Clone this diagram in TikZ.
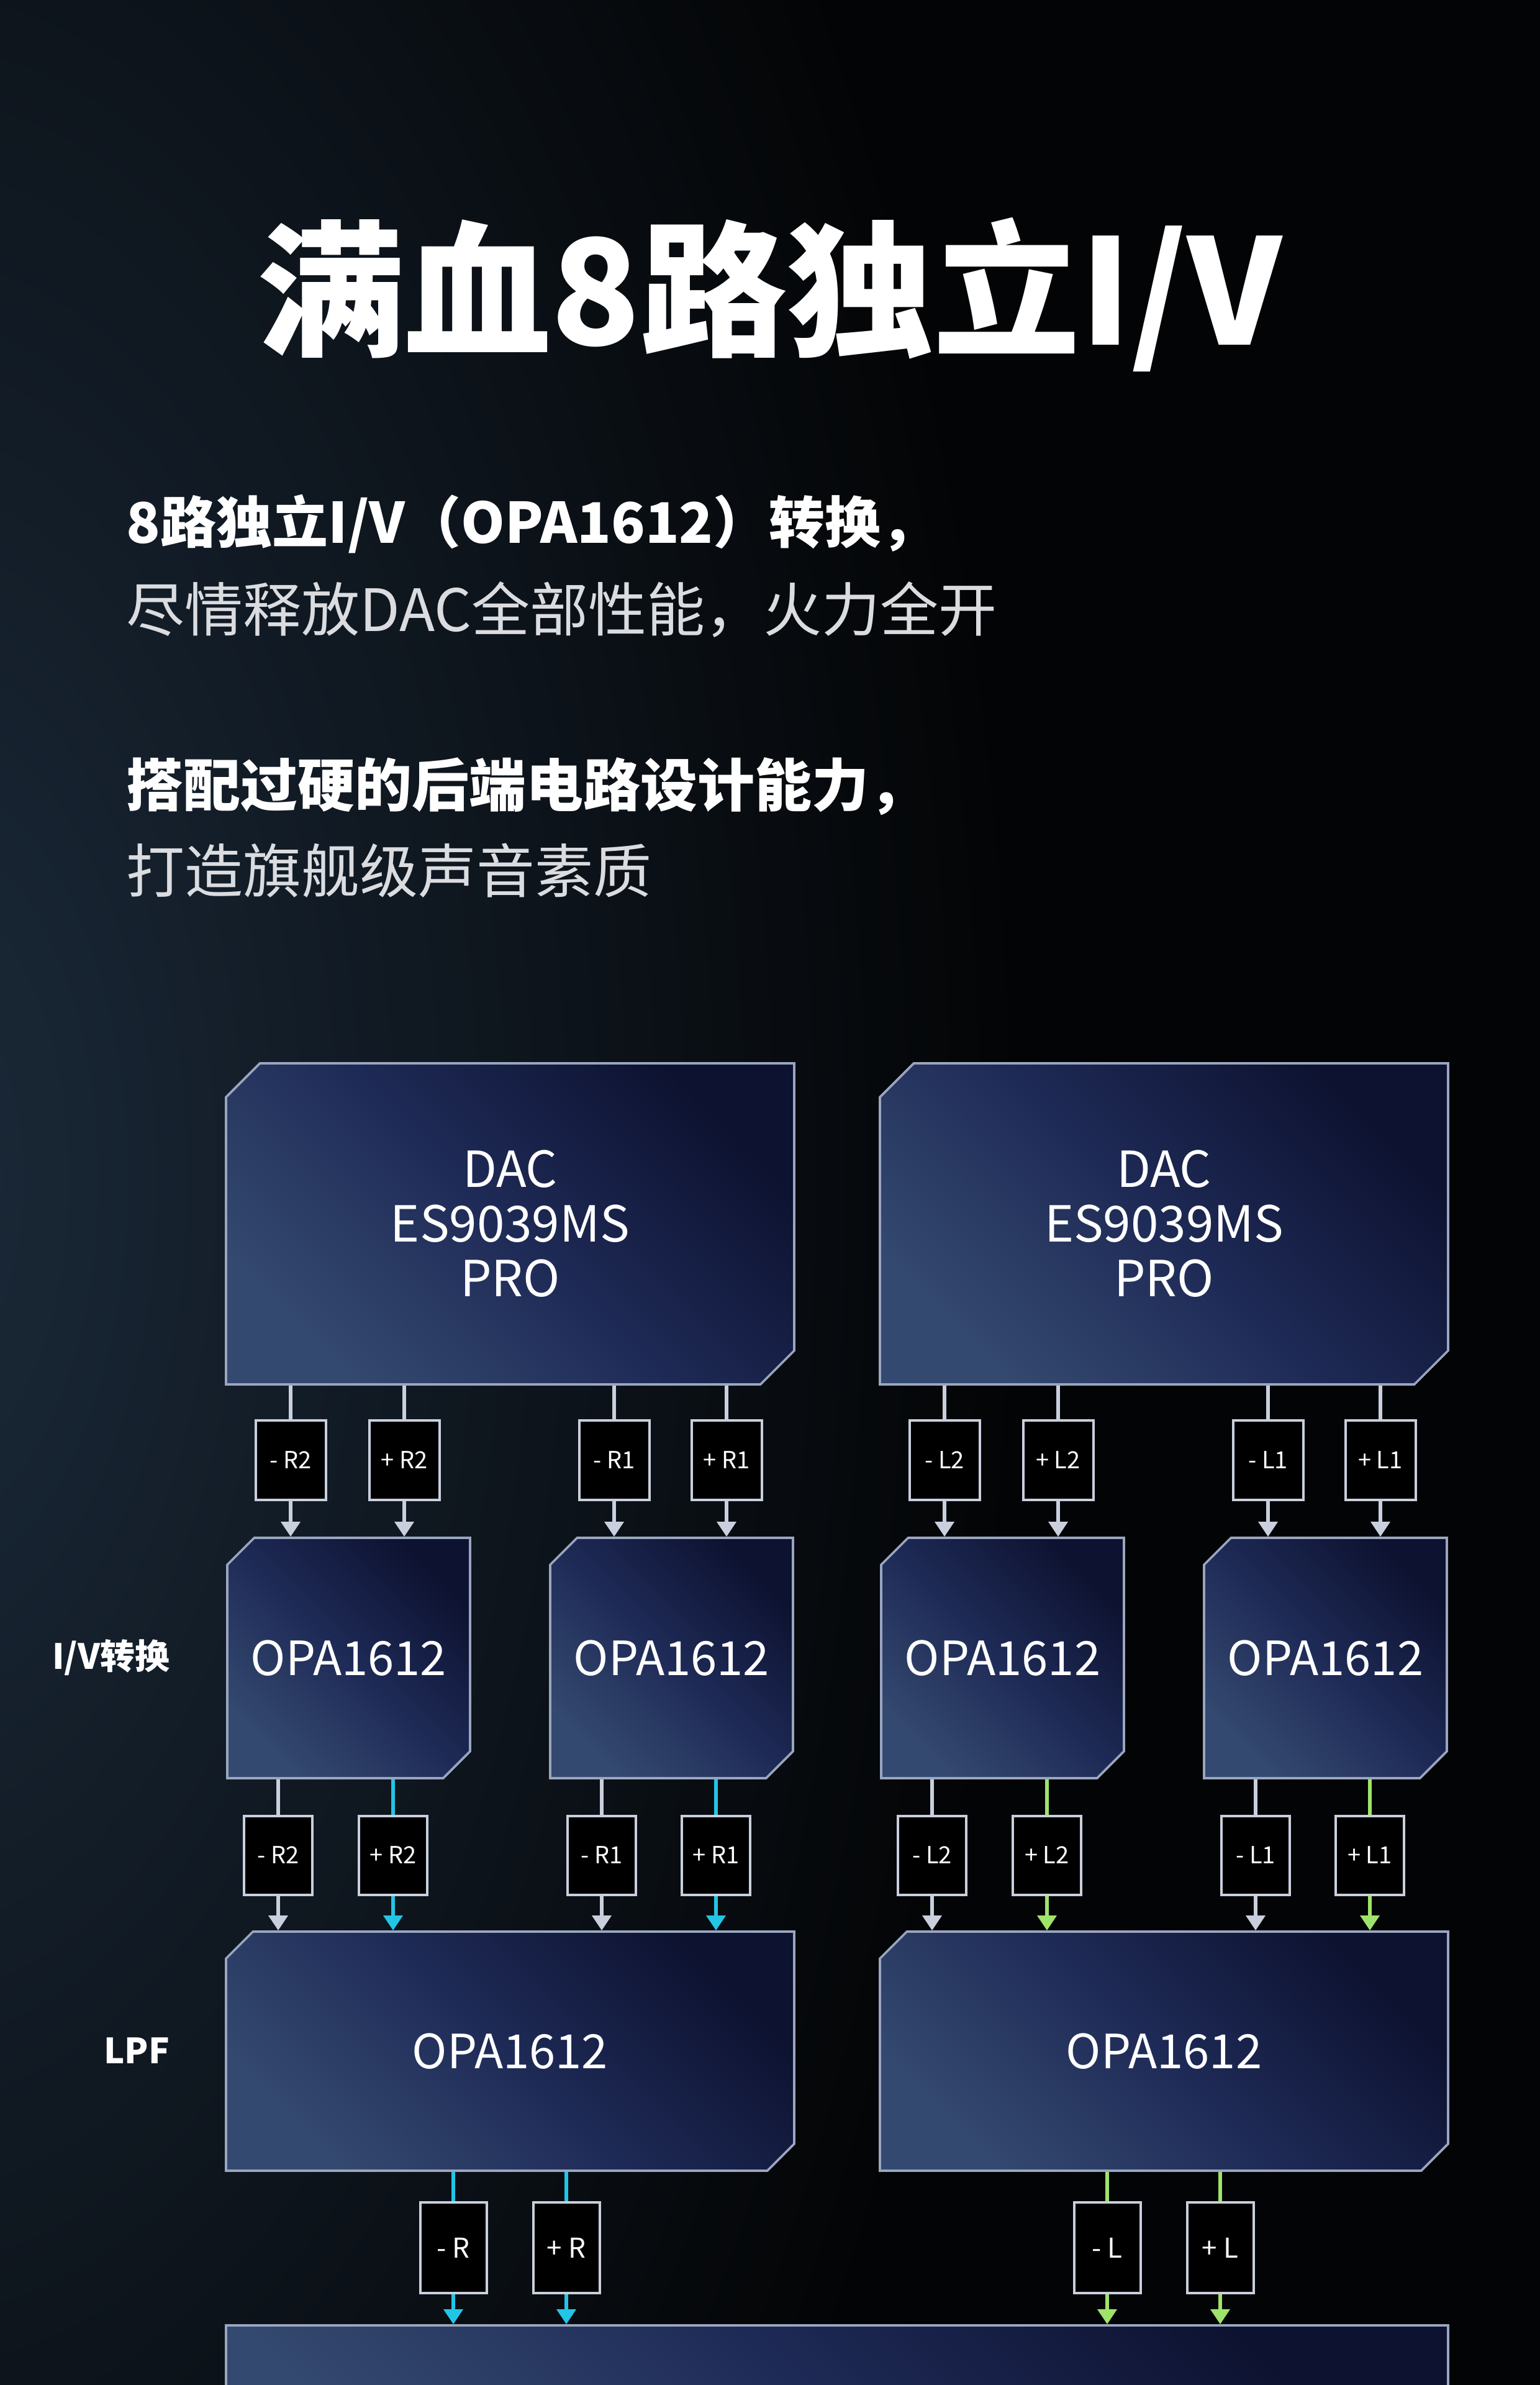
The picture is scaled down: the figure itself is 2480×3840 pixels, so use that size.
\documentclass[tikz,border=0pt]{standalone}
\usepackage{fontspec}
\setmainfont{Noto Sans CJK SC}
\usetikzlibrary{shapes.misc,arrows.meta}

\definecolor{sfondo}{HTML}{030405}
\definecolor{alone}{HTML}{1B2A3A}
\definecolor{bloccochiaro}{HTML}{34496F}
\definecolor{bloccomedio}{HTML}{1E2A56}
\definecolor{bloccoscuro}{HTML}{0D1230}
\definecolor{bordo}{HTML}{9AA6C0}
\definecolor{filo}{HTML}{C9CFDD}
\definecolor{ciano}{HTML}{22C5E6}
\definecolor{verde}{HTML}{9FE36B}
\definecolor{grigiotesto}{HTML}{DADCE0}

\tikzset{
    blocco/.style={chamfered rectangle, chamfered rectangle corners={north west, south east},
        chamfered rectangle angle=45, chamfered rectangle xsep=8pt,
        draw=bordo, line width=0.9pt, inner sep=0pt, align=center, text=white,
        top color=bloccochiaro, bottom color=bloccoscuro, middle color=bloccomedio,
        shading angle=135, font=\fontsize{19}{22}\selectfont},
    resist/.style={draw=filo, fill=black, line width=1pt, inner sep=0pt, text=white,
        font=\fontsize{9.5}{10}\selectfont},
    pista/.style={line width=1.6pt},
    freccia/.style={line width=1.6pt, -{Triangle[width=7.5pt, length=6pt]}},
    testo/.style={anchor=base west, inner sep=0pt, text=white},
    etichetta/.style={anchor=east, inner sep=0pt, text=white, font=\fontsize{14}{14}\selectfont\bfseries},
}

\begin{document}
\begin{tikzpicture}[x=0.25pt, y=-0.25pt]
    % Sfondo
    \useasboundingbox (0,0) rectangle (2480,3840);
    \fill[sfondo] (0,0) rectangle (2480,3840);
    \shade[inner color=alone, outer color=sfondo] (-150,1900) ellipse (1800 and 3400);

    % Titolo e testi
    \node[anchor=base, inner sep=0pt, text=white, font=\fontsize{59}{59}\selectfont\bfseries] (titolo) at (1240,556) {满血8路独立I/V};
    \node[testo, font=\fontsize{22.5}{24}\selectfont\bfseries] (riga1) at (203,874) {8路独立I/V（OPA1612）转换，};
    \node[testo, text=grigiotesto, font=\fontsize{23.5}{24}\selectfont] (riga2) at (203,1016) {尽情释放DAC全部性能，火力全开};
    \node[testo, font=\fontsize{23}{24}\selectfont\bfseries] (riga3) at (203,1298) {搭配过硬的后端电路设计能力，};
    \node[testo, text=grigiotesto, font=\fontsize{23.5}{24}\selectfont] (riga4) at (203,1437) {打造旗舰级声音素质};

    % Etichette laterali
    \node[etichetta] (lbliv) at (274,2669) {I/V转换};
    \node[etichetta] (lbllpf) at (274,3302) {LPF};

    % Blocco finale (tagliato in basso)
    \node[blocco, minimum width=492pt, minimum height=78pt] (finale) at (1348,3900) {};

    % Due canali: R a sinistra, L a destra
    \foreach \lato/\gx/\colore in {R/364/ciano, L/1417/verde} {
        % DAC
        \node[blocco, chamfered rectangle xsep=10pt, minimum width=228.75pt, minimum height=129.25pt,
            font=\fontsize{20}{22}\selectfont] (dac\lato) at (\gx+457.5,1970.5) {DAC\\ES9039MS\\PRO};
        % I/V
        \node[blocco, minimum width=97.75pt, minimum height=96.75pt] (iva\lato) at (\gx+197.5,2669.5) {OPA1612};
        \node[blocco, minimum width=97.75pt, minimum height=96.75pt] (ivb\lato) at (\gx+717.5,2669.5) {OPA1612};
        % LPF
        \node[blocco, minimum width=228.75pt, minimum height=96.25pt] (lpf\lato) at (\gx+457.5,3302.5) {OPA1612};

        % DAC -> I/V
        \foreach \idx/\pos/\segno/\num/\dest in {1/104/-/2/iva, 2/287/+/2/iva, 3/625/-/1/ivb, 4/806/+/1/ivb} {
            \node[resist, minimum width=28.25pt, minimum height=32pt] (in\lato\idx) at (\gx+\pos,2351) {\segno\ \lato\num};
            \draw[pista, filo] (dac\lato.south -| in\lato\idx) -- (in\lato\idx.north);
            \draw[freccia, filo] (in\lato\idx.south) -- (in\lato\idx.south |- \dest\lato.north);
        }

        % I/V -> LPF
        \foreach \idx/\pos/\segno/\num/\src/\tinta in {1/84/-/2/iva/filo, 2/269/+/2/iva/\colore, 3/605/-/1/ivb/filo, 4/789/+/1/ivb/\colore} {
            \node[resist, minimum width=27.5pt, minimum height=31.75pt] (mid\lato\idx) at (\gx+\pos,2987) {\segno\ \lato\num};
            \draw[pista, \tinta] (\src\lato.south -| mid\lato\idx) -- (mid\lato\idx.north);
            \draw[freccia, \tinta] (mid\lato\idx.south) -- (mid\lato\idx.south |- lpf\lato.north);
        }

        % LPF -> uscita
        \foreach \idx/\pos/\segno in {1/366/-, 2/548/+} {
            \node[resist, minimum width=26.75pt, minimum height=36.5pt, font=\fontsize{11}{11}\selectfont] (usc\lato\idx) at (\gx+\pos,3619) {\segno\ \lato};
            \draw[pista, \colore] (lpf\lato.south -| usc\lato\idx) -- (usc\lato\idx.north);
            \draw[freccia, \colore] (usc\lato\idx.south) -- (usc\lato\idx.south |- finale.north);
        }
    }
\end{tikzpicture}
\end{document}
